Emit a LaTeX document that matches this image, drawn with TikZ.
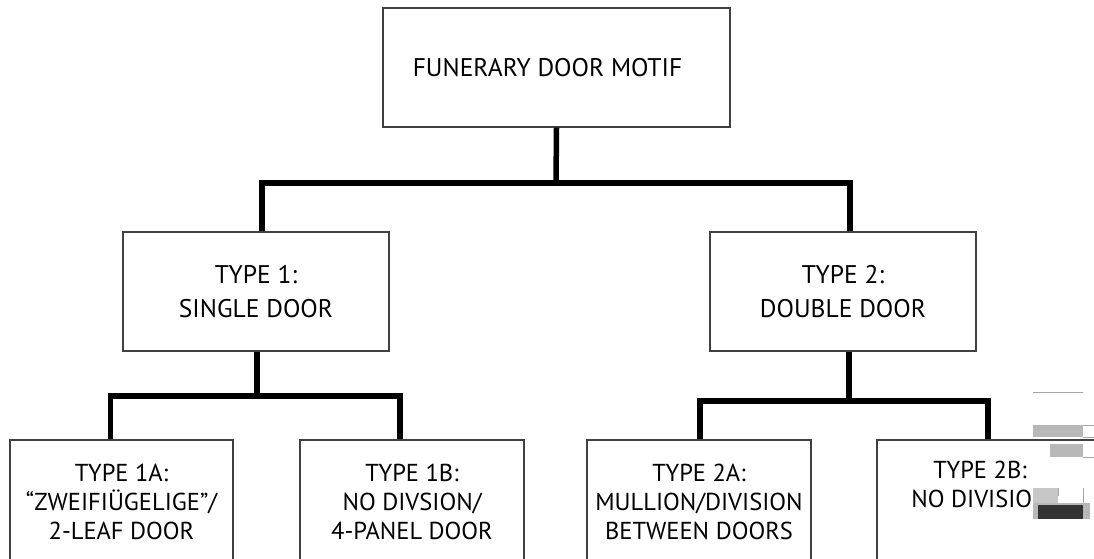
\documentclass[tikz,border=0pt]{standalone}
\usepackage{fontspec}
\setmainfont{PT Sans}
\begin{document}
\begin{tikzpicture}[x=1pt,y=-1pt,
  box/.style={draw=black!75, line width=1.3pt, fill=white, inner sep=0pt,
    align=center, text=black},
  upper/.style={box, font=\fontsize{25.5}{34}\selectfont},
  lower/.style={box, minimum width=224pt, minimum height=124pt,
    font=\fontsize{24.5}{29}\selectfont},
  conn/.style={line width=5.5pt, black},
  artifact/.style={fill=black!28, draw=none}]
\useasboundingbox (0,0) rectangle (1094,558);
\clip (0,0) rectangle (1094,558);
\fill[white] (0,0) rectangle (1094,558);
% boxes
\node[upper, minimum width=347pt, minimum height=119pt] (top) at (556.5,67.5)
  {FUNERARY DOOR MOTIF\hspace*{18pt}};
\node[upper, minimum width=266pt, minimum height=119pt] (t1) at (256,291.5)
  {TYPE 1:\\SINGLE DOOR};
\node[upper, minimum width=266pt, minimum height=119pt] (t2) at (843,291.5)
  {TYPE 2:\\DOUBLE DOOR};
\node[lower, minimum width=223pt] (t1a) at (121.5,502)
  {TYPE 1A:\\``ZWEIFIÜGELIGE''/\\2-LEAF DOOR};
\node[lower] (t1b) at (412,502)
  {TYPE 1B:\\NO DIVSION/\\4-PANEL DOOR};
\node[lower] (t2a) at (699,502)
  {TYPE 2A:\\MULLION/DIVISION\\BETWEEN DOORS};
\node[lower] (t2b) at (989,502)
  {\begin{tabular}{@{}c@{\hspace{18pt}}}TYPE 2B:\\NO DIVISION\\ \mbox{}\end{tabular}};
% junctions
\coordinate (j0) at (556,183);
\coordinate (j1) at (257,396);
\coordinate (j2) at (849,401);
% connectors
\draw[conn] (top.south) -- (j0);
\draw[conn] ([xshift=6pt]t1.north) |- (j0) -| ([xshift=7pt]t2.north);
\draw[conn] ([xshift=1pt]t1.south) -- (j1);
\draw[conn] ([xshift=-11pt]t1a.north) |- (j1) -| ([xshift=-12pt]t1b.north);
\draw[conn] ([xshift=6pt]t2.south) -- (j2);
\draw[conn] ([xshift=1pt]t2a.north) |- (j2) -| ([xshift=-1pt]t2b.north);
% scanning artefacts at the right edge
\draw[black!35, line width=0.8pt] (1033,392) -- (1083,392);
\fill[artifact] (1033,425) rectangle (1083,437);
\draw[black!35, line width=0.6pt] (1083,425) -- (1094,425) (1083,437) -- (1094,437);
\fill[artifact] (1050,444) rectangle (1083,457);
\draw[black!35, line width=0.6pt] (1083,457) -- (1094,457);
\fill[black!22] (1033,488) rectangle (1058,505);
\draw[black!35, line width=0.6pt] (1058,488) -- (1058,496) (1083,488) -- (1083,505);
\fill[black!28] (1033,503) rectangle (1090,519);
\fill[black!80] (1038,505) rectangle (1083,519);
\end{tikzpicture}
\end{document}
